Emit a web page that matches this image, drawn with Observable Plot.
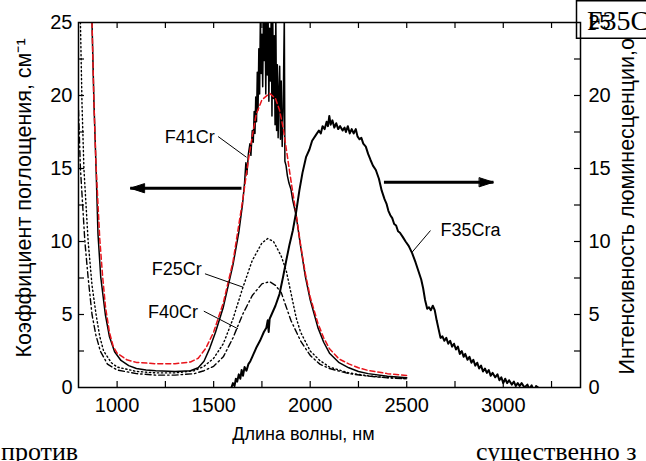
<!DOCTYPE html>
<html><head><meta charset="utf-8">
<script src="https://cdn.jsdelivr.net/npm/d3@7"></script>
<script src="https://cdn.jsdelivr.net/npm/@observablehq/plot@0.6"></script>
<style>
body{margin:0;background:#fff;}
#wrap{position:relative;width:646px;height:461px;overflow:hidden;background:#fff;}
.doc{position:absolute;font-family:"Liberation Serif","Times New Roman",serif;font-size:26px;line-height:1;color:#000;white-space:nowrap;}
</style></head><body><div id="wrap"></div>
<script>
// ---- data (wavelength nm, value) ----
const f41cr = [[870,25],[880,19.5],[891,15],[901,10.5],[915,7.6],[939,5.0],[960,3.5],[987,2.45],[1020,1.85],[1060,1.5],[1100,1.3],[1150,1.2],[1200,1.15],[1300,1.1],[1380,1.15],[1420,1.35],[1450,1.8],[1480,2.7],[1510,3.8],[1550,5.5],[1600,8.4],[1630,10.6],[1650,12.6],[1660,14.0],[1667,15.4],[1672,14.6],[1680,16.0],[1688,16.7],[1693,15.9],[1700,17.6],[1705,16.8],[1710,18.9],[1714,17.4],[1718,19.9],[1722,18.2],[1726,21.6],[1730,19.0],[1734,23.2],[1738,20.1],[1742,25.5],[1746,21.5],[1750,24.2],[1754,20.6],[1758,25.5],[1762,22.4],[1766,25.5],[1770,20.1],[1774,25.5],[1778,21.4],[1782,25.5],[1786,19.6],[1790,24.6],[1794,21.0],[1798,25.5],[1802,18.6],[1806,25.5],[1810,19.8],[1814,24.1],[1818,18.0],[1822,25.5],[1826,17.6],[1830,22.1],[1834,17.1],[1838,20.2],[1842,22.0],[1846,17.0],[1850,21.0],[1855,16.5],[1860,19.0],[1866,25.5],[1869,15.5],[1875,15.2],[1882,14.5],[1890,14.0],[1900,13.6],[1910,12.8],[1927,11.8],[1950,9.7],[1975,7.6],[2000,6.0],[2040,4.1],[2070,3.1],[2100,2.35],[2150,1.7],[2200,1.35],[2250,1.1],[2300,0.95],[2400,0.77],[2500,0.66]];
const f41crFit = [[870,25],[880,19.5],[890,15.5],[900,12.8],[910,10.2],[925,7.6],[940,5.5],[960,3.8],[980,2.8],[1000,2.35],[1050,1.9],[1100,1.72],[1200,1.63],[1300,1.63],[1380,1.75],[1420,2.0],[1460,2.7],[1500,3.8],[1550,5.8],[1600,8.6],[1650,12.8],[1680,15.6],[1700,17.2],[1720,18.7],[1750,19.7],[1790,20.15],[1820,19.8],[1841,19.0],[1860,17.8],[1880,16.0],[1900,14.2],[1927,11.9],[1950,9.8],[1975,7.8],[2000,6.2],[2040,4.4],[2070,3.4],[2100,2.65],[2150,1.95],[2200,1.62],[2250,1.35],[2300,1.17],[2400,0.95],[2500,0.82]];
const f25cr = [[810,25],[818,19.5],[828,15],[850,10],[870,7],[891,5],[910,3.5],[930,2.5],[970,1.7],[1000,1.4],[1100,1.1],[1200,1.0],[1300,1.0],[1400,1.15],[1450,1.45],[1500,2.0],[1550,3.0],[1600,4.7],[1650,6.8],[1700,8.7],[1750,9.9],[1780,10.2],[1810,10.0],[1850,9.0],[1876,8.0],[1900,6.5],[1927,4.8],[1950,3.8],[2000,2.5],[2050,1.85],[2100,1.4],[2200,1.0],[2300,0.8],[2400,0.68],[2500,0.6]];
const f40cr = [[800,19],[810,15],[833,10],[850,7.5],[870,5],[890,3.6],[913,2.5],[950,1.6],[1000,1.2],[1100,0.95],[1200,0.85],[1300,0.85],[1400,0.95],[1450,1.15],[1500,1.45],[1550,2.1],[1600,3.4],[1650,5.0],[1700,6.3],[1750,7.1],[1790,7.25],[1820,7.0],[1850,6.5],[1900,4.6],[1950,3.2],[2000,2.2],[2050,1.6],[2100,1.3],[2200,0.95],[2300,0.78],[2400,0.66],[2500,0.6]];
const f35cra = [[1592,0],[1600,0.3],[1608,0.1],[1615,0.6],[1622,0.4],[1630,0.9],[1638,0.6],[1645,1.2],[1652,0.8],[1660,1.4],[1670,1.15],[1680,1.6],[1690,1.8],[1700,2.1],[1720,2.7],[1740,3.2],[1760,3.8],[1773,4.1],[1780,4.6],[1785,3.8],[1790,4.7],[1800,5.0],[1820,5.6],[1841,6.4],[1860,7.6],[1876,8.7],[1893,9.8],[1910,10.75],[1927,12.0],[1944,13.5],[1960,14.7],[1979,15.8],[1996,16.3],[2010,16.9],[2030,17.3],[2045,17.6],[2055,17.4],[2064,17.9],[2075,17.7],[2085,18.2],[2092,17.9],[2099,18.6],[2106,18.0],[2115,18.3],[2125,17.8],[2135,18.1],[2145,17.7],[2155,17.9],[2168,17.6],[2178,17.8],[2185,17.5],[2195,17.9],[2205,17.4],[2215,17.7],[2225,17.4],[2236,17.7],[2245,17.2],[2255,17.0],[2265,17.1],[2275,16.7],[2288,16.5],[2300,16.0],[2312,15.6],[2325,15.2],[2340,14.9],[2356,14.3],[2370,13.5],[2385,12.9],[2395,12.6],[2405,12.1],[2415,11.8],[2425,11.6],[2435,11.2],[2445,11.1],[2455,10.7],[2465,10.6],[2480,10.3],[2494,10.0],[2510,9.7],[2528,9.2],[2545,8.6],[2560,8.0],[2575,7.4],[2585,6.8],[2595,6.0],[2606,5.4],[2615,5.5],[2625,5.3],[2635,5.6],[2645,5.3],[2655,4.6],[2665,4.0],[2675,3.4],[2685,3.5],[2695,3.2],[2705,3.4],[2715,3.0],[2725,3.2],[2735,2.8],[2745,3.0],[2755,2.6],[2765,2.8],[2775,2.3],[2785,2.5],[2795,2.1],[2803,2.3],[2815,1.9],[2825,2.1],[2835,1.7],[2845,1.9],[2855,1.5],[2865,1.7],[2875,1.3],[2885,1.5],[2895,1.1],[2905,1.3],[2915,1.0],[2925,1.2],[2935,0.8],[2945,1.0],[2958,0.7],[2970,0.9],[2980,0.5],[2990,0.7],[3000,0.3],[3010,0.6],[3020,0.3],[3030,0.5],[3044,0.2],[3055,0.4],[3065,0.1],[3075,0.3],[3085,0.1],[3095,0.3],[3110,0.0],[3125,0.2],[3135,-0.1],[3147,0.15],[3160,-0.3],[3170,0.1],[3181,0]];

const xTickLabels = [1000,1500,2000,2500,3000];
const xTickMarks = [1000,1250,1500,1750,2000,2250,2500,2750,3000,3250];
const yTickLabels = [0,5,10,15,20,25];
const yTickMarks = [2.5,5,7.5,10,12.5,15,17.5,20,22.5];

const seriesLabelsEnd = [
  {name:"F41Cr", x:1506, y:17.14, lx1:1523, ly1:17.19, lx2:1670, ly2:15.77},
  {name:"F25Cr", x:1438, y:8.08, lx1:1455, ly1:7.79, lx2:1652, ly2:6.87},
  {name:"F40Cr", x:1419, y:5.16, lx1:1449, ly1:5.23, lx2:1626, ly2:4.02}
];
const seriesLabelsStart = [
  {name:"F35Cra", x:2675, y:10.8, lx1:2623, ly1:10.75, lx2:2528, ly2:9.27}
];
const arrows = [
  {x1:1644, x2:1068, y:13.65, dir:-90},
  {x1:2382, x2:2949, y:14.06, dir:90}
];
const yTitleLeft = "Коэффициент поглощения, см\u207B\u00B9";
const yTitleRight = "Интенсивность люминесценции,о.е.";
const xTitle = "Длина волны, нм";

const X = d => d[0], Y = d => d[1];
const headShape = {draw(ctx, l) { ctx.moveTo(-4.5, 0); ctx.lineTo(0, -l); ctx.lineTo(4.5, 0); ctx.closePath(); }};

const plot = Plot.plot({
  width: 646, height: 461,
  marginLeft: 78, marginRight: 66, marginTop: 22, marginBottom: 74,
  style: {fontFamily: "Arial, 'Liberation Sans', sans-serif", fontSize: "20px", color: "black", background: "white", overflow: "visible"},
  x: {domain: [800, 3400]},
  y: {domain: [0, 25]},
  marks: [
    Plot.text([yTitleRight], {frameAnchor: "bottom-right", rotate: -90, textAnchor: "start", dx: 53, dy: -13, fontSize: 21.5}),
    Plot.line(f40cr, {x: X, y: Y, stroke: "black", strokeWidth: 1.4, strokeDasharray: "6,3,1.5,3", clip: true}),
    Plot.line(f25cr, {x: X, y: Y, stroke: "black", strokeWidth: 1.4, strokeDasharray: "1.3,2.7", clip: true}),
    Plot.line(f41cr, {x: X, y: Y, stroke: "black", strokeWidth: 1.5, clip: true}),
    Plot.line(f41crFit, {x: X, y: Y, stroke: "#e8141b", strokeWidth: 1.5, strokeDasharray: "5,3", clip: true}),
    Plot.line(f35cra, {x: X, y: Y, stroke: "black", strokeWidth: 2, clip: true}),
    Plot.frame({stroke: "black", strokeWidth: 1.5}),
    Plot.tickX(xTickMarks, {x: d => d, insetTop: 359, stroke: "black", strokeWidth: 1.2}),
    Plot.tickX(xTickMarks, {x: d => d, insetBottom: 359, stroke: "black", strokeWidth: 1.2}),
    Plot.tickY(yTickMarks, {y: d => d, insetRight: 496, stroke: "black", strokeWidth: 1.2}),
    Plot.tickY(yTickMarks, {y: d => d, insetLeft: 496, stroke: "black", strokeWidth: 1.2}),
    Plot.axisX({ticks: xTickLabels, tickFormat: d => String(d), tickSize: 0, tickPadding: 10, label: null, fontSize: 20}),
    Plot.axisY({anchor: "left", ticks: yTickLabels, tickFormat: d => String(d), tickSize: 0, tickPadding: 6, label: null, fontSize: 20}),
    Plot.text([yTitleLeft], {frameAnchor: "left", rotate: -90, textAnchor: "middle", dx: -54, dy: -7, fontSize: 21.5}),
    Plot.text([xTitle], {frameAnchor: "bottom", textAnchor: "middle", dy: 52, dx: -26, fontSize: 18}),
    Plot.link(seriesLabelsEnd.concat(seriesLabelsStart), {x1: "lx1", y1: "ly1", x2: "lx2", y2: "ly2", stroke: "black", strokeWidth: 1}),
    Plot.text(seriesLabelsEnd, {x: "x", y: "y", text: "name", textAnchor: "end", fontSize: 18}),
    Plot.text(seriesLabelsStart, {x: "x", y: "y", text: "name", textAnchor: "start", fontSize: 18}),
    Plot.link(arrows, {x1: "x1", x2: "x2", y1: "y", y2: "y", stroke: "black", strokeWidth: 3}),
    Plot.vector(arrows, {x: "x2", y: "y", rotate: "dir", length: 14, anchor: "end", shape: headShape, fill: "black", stroke: "black", strokeWidth: 1}),
    Plot.axisY({anchor: "right", ticks: yTickLabels, tickFormat: d => String(d), tickSize: 0, tickPadding: 8, label: null, fontSize: 20})
  ]
});

// top-right boxed caption fragment
const ns = "http://www.w3.org/2000/svg";
const firstG = plot.querySelector(":scope > g");
const rect = document.createElementNS(ns, "rect");
rect.setAttribute("x", 576.5); rect.setAttribute("y", 0.75);
rect.setAttribute("width", 80); rect.setAttribute("height", 37.5);
rect.setAttribute("fill", "white"); rect.setAttribute("stroke", "black"); rect.setAttribute("stroke-width", 1.5);
plot.insertBefore(rect, firstG.nextSibling);
const cap = document.createElementNS(ns, "text");
cap.setAttribute("x", 587); cap.setAttribute("y", 30);
cap.setAttribute("text-anchor", "start");
cap.setAttribute("font-family", "'Liberation Serif','Times New Roman',serif");
cap.setAttribute("font-size", 28);
cap.textContent = "F35C";
plot.appendChild(cap);

const wrap = document.getElementById("wrap");
wrap.appendChild(plot);
const d1 = document.createElement("div"); d1.className = "doc"; d1.style.left = "1px"; d1.style.top = "439px"; d1.textContent = "против";
const d2 = document.createElement("div"); d2.className = "doc"; d2.style.left = "476px"; d2.style.top = "439px"; d2.textContent = "существенно з";
wrap.appendChild(d1); wrap.appendChild(d2);
</script></body></html>
